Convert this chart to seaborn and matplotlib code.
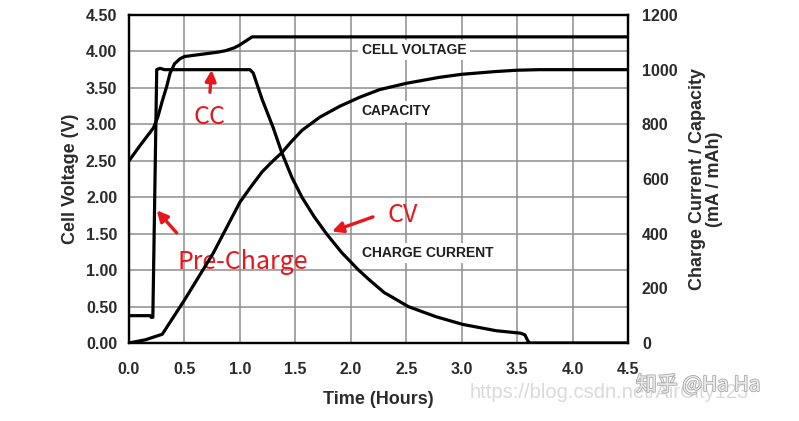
import matplotlib
matplotlib.use("Agg")
import matplotlib.pyplot as plt
import matplotlib.patheffects as pe
import pandas as pd
import seaborn as sns

# ---------------- data ----------------
time_v = [0.0, 0.10, 0.22, 0.26, 0.30, 0.34, 0.37, 0.41, 0.46, 0.50, 0.60, 0.70,
          0.80, 0.87, 0.95, 1.00, 1.05, 1.11, 4.50]
voltage = [2.50, 2.71, 2.95, 3.10, 3.32, 3.52, 3.70, 3.83, 3.90, 3.93, 3.95, 3.97,
           3.99, 4.01, 4.05, 4.09, 4.14, 4.20, 4.20]

time_i = [0.0, 0.19, 0.20, 0.215, 0.25, 0.28, 0.32, 1.09, 1.12, 1.20, 1.30, 1.38,
          1.47, 1.56, 1.67, 1.78, 1.92, 2.07, 2.17, 2.30, 2.52, 2.77, 3.01, 3.31,
          3.53, 3.57, 3.60, 3.62, 4.50]
current = [100, 100, 94, 94, 1000, 1005, 1000, 1000, 988, 892, 788, 694,
           605, 533, 462, 400, 330, 267, 230, 185, 133, 96, 68, 45,
           36, 30, 5, 0, 0]

time_c = [0.0, 0.15, 0.30, 0.50, 0.76, 1.00, 1.10, 1.20, 1.30, 1.38, 1.46, 1.56,
          1.72, 1.90, 2.08, 2.26, 2.50, 2.80, 3.00, 3.30, 3.50, 3.70, 4.50]
capacity = [0, 12, 32, 157, 329, 515, 572, 626, 667, 697, 735, 778,
            826, 866, 899, 927, 950, 972, 983, 993, 998, 1000, 1000]

x_ticks = [0.0, 0.5, 1.0, 1.5, 2.0, 2.5, 3.0, 3.5, 4.0, 4.5]
left_ticks = [0.0, 0.5, 1.0, 1.5, 2.0, 2.5, 3.0, 3.5, 4.0, 4.5]
right_ticks = [0, 200, 400, 600, 800, 1000, 1200]

x_tick_labels = [f"{v:.1f}" for v in x_ticks]
left_tick_labels = [f"{v:.2f}" for v in left_ticks]
right_tick_labels = [str(v) for v in right_ticks]

# ---------------- style ----------------
sns.set_theme(style="white")
plt.rcParams['font.family'] = ['Liberation Sans', 'DejaVu Sans']

W, H = 799, 421
fig = plt.figure(figsize=(W / 100, H / 100), dpi=100)
L, R, T, B = 129, 628, 15, 343
ax = fig.add_axes([L / W, 1 - B / H, (R - L) / W, (B - T) / H])
ax2 = ax.twinx()

df_v = pd.DataFrame({"t": time_v, "v": voltage})
df_i = pd.DataFrame({"t": time_i, "i": current})
df_c = pd.DataFrame({"t": time_c, "c": capacity})

line_kw = dict(color="black", linewidth=2.3, estimator=None, sort=False, legend=False)
sns.lineplot(data=df_v, x="t", y="v", ax=ax, **line_kw)
sns.lineplot(data=df_i, x="t", y="i", ax=ax2, **line_kw)
sns.lineplot(data=df_c, x="t", y="c", ax=ax2, **line_kw)

ax.set_xlim(0, 4.5)
ax.set_ylim(0, 4.5)
ax2.set_ylim(0, 1200)

ax.set_xticks(x_ticks)
ax.set_xticklabels(x_tick_labels)
ax.set_yticks(left_ticks)
ax.set_yticklabels(left_tick_labels)
ax2.set_yticks(right_ticks)
ax2.set_yticklabels(right_tick_labels)

ax.grid(True, color="#8e8e8e", linewidth=1.1)
ax2.grid(False)

tick_color = "#2b2b2b"
ax.tick_params(axis="x", length=0, pad=14, labelsize=11.5, labelcolor=tick_color)
ax.tick_params(axis="y", length=0, pad=8.5, labelsize=11.5, labelcolor=tick_color)
ax2.tick_params(axis="y", length=0, pad=10, labelsize=11.5, labelcolor=tick_color)
for lab in ax.get_xticklabels() + ax.get_yticklabels() + ax2.get_yticklabels():
    lab.set_fontweight("bold")

for a in (ax, ax2):
    for s in a.spines.values():
        s.set_color("black")
        s.set_linewidth(1.6)

ax.set_xlabel("Time (Hours)", fontsize=13, fontweight="bold", color=tick_color, labelpad=10)
ax.set_ylabel("Cell Voltage (V)", fontsize=13, fontweight="bold", color=tick_color, labelpad=5)
ax2.set_ylabel("Charge Current / Capacity\n(mA / mAh)", fontsize=13, fontweight="bold",
               color=tick_color, labelpad=8, linespacing=1.0)

# ---------------- in-chart labels ----------------
box = dict(facecolor="white", edgecolor="none", pad=2.5)
for txt, yv in [("CELL VOLTAGE", 4.02), ("CAPACITY", 3.18), ("CHARGE CURRENT", 1.235)]:
    ax.text(2.10, yv, txt, fontsize=10, fontweight="bold", color="#1e1e1e",
            ha="left", va="center", bbox=box, zorder=4)

red = "#e8161c"
cjk = ["Noto Sans CJK SC", "DejaVu Sans"]
ax.text(0.73, 3.10, "CC", color=red, fontsize=18, ha="center", va="center", family=cjk, zorder=5)
ax.text(1.03, 1.11, "Pre-Charge", color=red, fontsize=18, ha="center", va="center", family=cjk, zorder=5)
ax.text(2.47, 1.76, "CV", color=red, fontsize=18, ha="center", va="center", family=cjk, zorder=5)

arrow = dict(arrowstyle="-|>", color=red, lw=2.4, mutation_scale=16, shrinkA=0, shrinkB=0)
ax.annotate("", xy=(0.745, 3.745), xytext=(0.73, 3.44), arrowprops=arrow, zorder=5)
ax.annotate("", xy=(0.25, 1.82), xytext=(0.43, 1.51), arrowprops=arrow, zorder=5)
ax.annotate("", xy=(1.83, 1.53), xytext=(2.20, 1.73), arrowprops=arrow, zorder=5)

# ---------------- watermarks ----------------
fig.text(470 / W, 1 - 393 / H, "https://blog.csdn.net/AirCity123", color="#dadada",
         fontsize=14.5, ha="left", va="center", family=["Liberation Sans"])
fig.text(636 / W, 1 - 385 / H, "知乎 @Ha Ha", color="#ececec", fontsize=15,
         ha="left", va="center", family=cjk,
         path_effects=[pe.withStroke(linewidth=1.2, foreground="#a8a8a8")])

fig.savefig("out.png", dpi=100)
